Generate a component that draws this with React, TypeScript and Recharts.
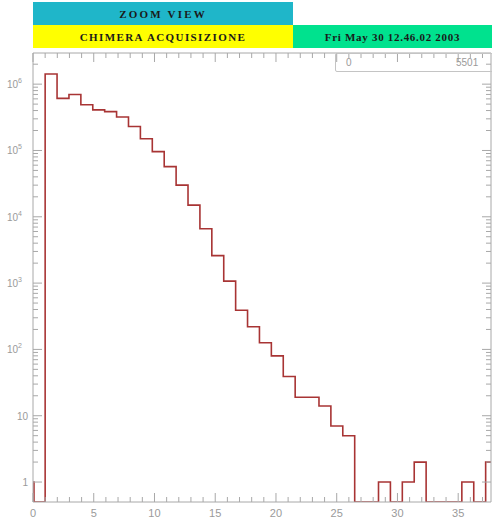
import React from 'react'
import { LineChart, Line, XAxis, YAxis } from 'recharts'

// lower edges of each bin, last entry is the upper edge of the last bin
const binEdges = [
    -0.96, 0.08, 1.0, 1.98, 2.96, 3.94, 4.92, 5.9, 6.88, 7.86, 8.84, 9.82, 10.8, 11.78,
    12.76, 13.74, 14.72, 15.7, 16.68, 17.66, 18.64, 19.62, 20.6, 21.58, 22.56, 23.54,
    24.52, 25.5, 26.48, 27.46, 28.44, 29.42, 30.4, 31.38, 32.36, 33.34, 34.32, 35.3,
    36.28, 37.26, 38.24,
]
const counts = [
    1, 0, 1420000, 610000, 700000, 490000, 410000, 385000, 320000, 230000, 150000,
    96000, 57000, 30000, 15000, 6600, 2600, 1070, 390, 220, 126, 80, 39, 19, 19, 14,
    7, 5, 0, 0, 1, 0, 1, 2, 0, 0, 0, 1, 0, 2,
]
const xTicks = [0, 5, 10, 15, 20, 25, 30, 35]
const yTicks = [1, 10, 100, 1000, 10000, 100000, 1000000]
const yTickLabels = ['1', '10', '10|2', '10|3', '10|4', '10|5', '10|6']
const titleText = 'ZOOM VIEW'
const subtitleText = 'CHIMERA ACQUISIZIONE'
const dateText = 'Fri May 30 12.46.02 2003'
const rangeLabels = ['0', '5501']

const Y_MIN = 0.5
const Y_MAX = 2950000
const X_MAX = 37.7

const W = 492
const H = 523
const LEFT = 33
const RIGHT = 491
const TOP = 53
const BOTTOM = 502

const AXIS = '#a8a8a8'
const LABEL = '#9a9a9a'

const data = counts.map((c, i) => ({ x: binEdges[i], y: c > 0 ? c : Y_MIN }))
data.push({ x: binEdges[counts.length], y: counts[counts.length - 1] || Y_MIN })

const xMinor = Array.from({ length: 38 }, (_, i) => i)
const yMinor: number[] = []
yTicks.forEach((d) => {
    for (let k = 1; k < 10; k++) if (d * k < Y_MAX) yMinor.push(d * k)
})

const BottomTick = (props: any) => {
    const v = props.payload.value
    const major = xTicks.includes(v)
    return (
        <g>
            <line x1={props.x} x2={props.x} y1={BOTTOM} y2={BOTTOM - (major ? 9 : 5)} stroke={AXIS} />
            {major && (
                <text x={props.x} y={BOTTOM + 15} textAnchor="middle" fontSize={11} fill={LABEL}
                    fontFamily="Liberation Sans, Arial, sans-serif">{v}</text>
            )}
        </g>
    )
}

const TopTick = (props: any) => {
    const v = props.payload.value
    const major = xTicks.includes(v)
    return <line x1={props.x} x2={props.x} y1={TOP} y2={TOP + (major ? 9 : 5)} stroke={AXIS} />
}

const LeftTick = (props: any) => {
    const v = props.payload.value
    const idx = yTicks.indexOf(v)
    const major = idx >= 0
    const y = props.y
    let label = null
    if (major) {
        const [base, exp] = yTickLabels[idx].split('|')
        label = (
            <text x={exp ? 22 : 28} y={y + 4} textAnchor="end" fontSize={10} fill={LABEL}
                fontFamily="Liberation Sans, Arial, sans-serif">
                {base}
                {exp && <tspan dy={-5} fontSize={7}>{exp}</tspan>}
            </text>
        )
    }
    return (
        <g>
            <line x1={LEFT} x2={LEFT + (major ? 9 : 5)} y1={y} y2={y} stroke={AXIS} />
            {label}
        </g>
    )
}

const RightTick = (props: any) => {
    const v = props.payload.value
    const major = yTicks.indexOf(v) >= 0
    return <line x1={RIGHT} x2={RIGHT - (major ? 9 : 5)} y1={props.y} y2={props.y} stroke={AXIS} />
}

const box = (left: number, top: number, width: number, height: number, bg: string): React.CSSProperties => ({
    position: 'absolute', left, top, width, height, background: bg,
    display: 'flex', alignItems: 'center', justifyContent: 'center',
    fontFamily: '"Liberation Serif", "Times New Roman", serif', fontWeight: 'bold',
    fontSize: 11, color: '#1a1a1a',
})

export default function App() {
    return (
        <div style={{ position: 'absolute', left: 0, top: 0, width: W, height: H, background: '#fff', overflow: 'hidden' }}>
            <div style={{ ...box(33, 2, 260, 23, '#1fb6c9'), letterSpacing: 2.2 }}>{titleText}</div>
            <div style={{ ...box(33, 25, 260, 23, '#ffff00'), letterSpacing: 1.4 }}>{subtitleText}</div>
            <div style={{ ...box(293, 25, 199, 23, '#00e28e'), letterSpacing: 0.7 }}>{dateText}</div>
            <LineChart width={W} height={H} data={data} margin={{ top: 52, right: 0, bottom: 0, left: 0 }}>
                <XAxis xAxisId="bottom" dataKey="x" type="number" domain={[0, X_MAX]} allowDataOverflow
                    ticks={xMinor} interval={0} height={21} tick={BottomTick} tickLine={false}
                    axisLine={{ stroke: AXIS }} />
                <XAxis xAxisId="top" orientation="top" dataKey="x" type="number" domain={[0, X_MAX]}
                    allowDataOverflow ticks={xMinor} interval={0} height={1} tick={TopTick} tickLine={false}
                    axisLine={{ stroke: AXIS }} />
                <YAxis yAxisId="left" scale="log" type="number" domain={[Y_MIN, Y_MAX]} allowDataOverflow
                    ticks={yMinor} interval={0} width={33} tick={LeftTick} tickLine={false}
                    axisLine={{ stroke: AXIS }} />
                <YAxis yAxisId="right" orientation="right" scale="log" type="number" domain={[Y_MIN, Y_MAX]}
                    allowDataOverflow ticks={yMinor} interval={0} width={1} tick={RightTick} tickLine={false}
                    axisLine={{ stroke: AXIS }} />
                <Line xAxisId="bottom" yAxisId="left" dataKey="y" type="stepAfter" stroke="#a83434"
                    strokeWidth={1.6} dot={false} isAnimationActive={false} />
            </LineChart>
            <div style={{
                position: 'absolute', left: 335, top: 53, width: 160, height: 19,
                border: '1px solid #c4c4c4', borderRadius: 2, boxSizing: 'border-box',
                fontFamily: 'Liberation Sans, Arial, sans-serif', fontSize: 10, color: LABEL,
            }}>
                <span style={{ position: 'absolute', left: 10, top: 3 }}>{rangeLabels[0]}</span>
                <span style={{ position: 'absolute', left: 120, top: 3 }}>{rangeLabels[1]}</span>
            </div>
        </div>
    )
}
